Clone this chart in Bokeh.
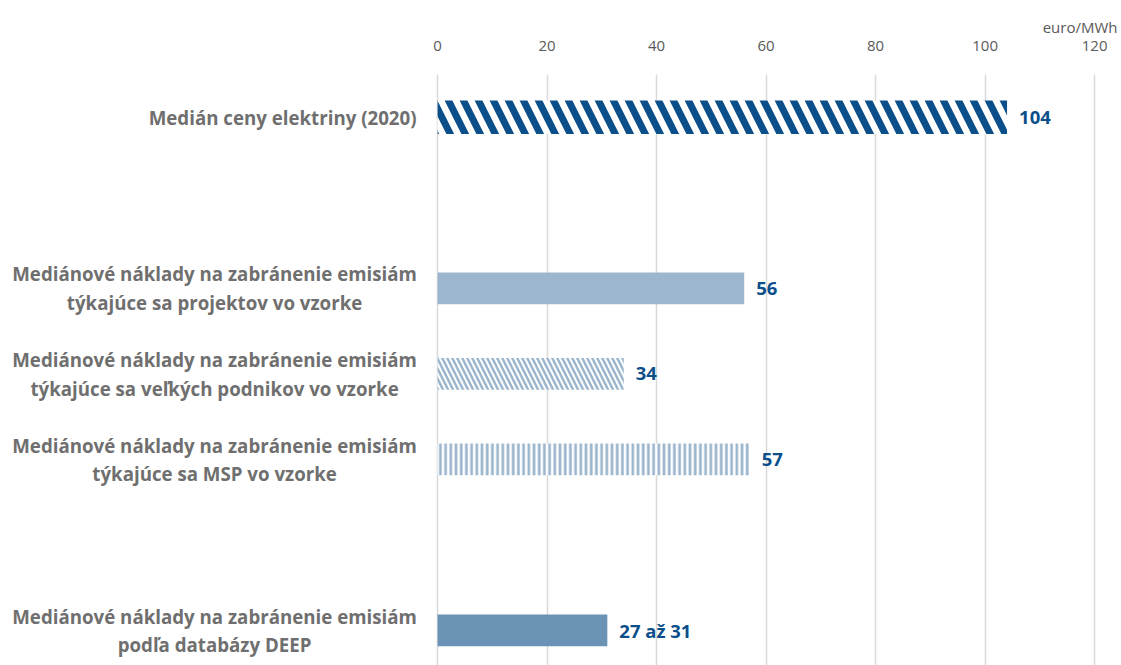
from bokeh.plotting import figure
from bokeh.models import Range1d, FixedTicker, ColumnDataSource
from bokeh.embed import file_html
from bokeh.resources import INLINE
from bokeh.core.properties import value

# Categories (top to bottom), their row positions and values in euro/MWh
categories = [
    "Medián ceny elektriny (2020)",
    "Mediánové náklady na zabránenie emisiám\ntýkajúce sa projektov vo vzorke",
    "Mediánové náklady na zabránenie emisiám\ntýkajúce sa veľkých podnikov vo vzorke",
    "Mediánové náklady na zabránenie emisiám\ntýkajúce sa MSP vo vzorke",
    "Mediánové náklady na zabránenie emisiám\npodľa databázy DEEP",
]
rows = [0, 2, 3, 4, 6]
values = [104, 56, 34, 57, 31]
value_labels = ["104", "56", "34", "57", "27 až 31"]
x_ticks = [0, 20, 40, 60, 80, 100, 120]

DARK = "#0B4F8A"
LIGHT = "#9CB6CE"
MID = "#6B93B5"
GRAY = "#6F6F6F"
FONT = "Open Sans"

# The frame spans the full width; the negative part of the x range holds the category labels
p = figure(
    width=1121, height=665,
    x_range=Range1d(-79.82, 124.9), y_range=Range1d(6.41, -0.5),
    x_axis_location="above",
    min_border_left=0, min_border_right=0, min_border_top=74, min_border_bottom=0,
    output_backend="svg", toolbar_location=None,
    title="euro/MWh", title_location="above",
)
p.outline_line_color = None
p.background_fill_color = "white"
p.border_fill_color = "white"
p.yaxis.visible = False

p.title.align = "right"
p.title.text_font = FONT
p.title.text_font_style = "normal"
p.title.text_font_size = "15px"
p.title.text_color = "#595959"
p.title.offset = 4
p.title.standoff = 2

# Value axis on top
xa = p.xaxis[0]
xa.ticker = FixedTicker(ticks=x_ticks)
xa.axis_line_color = None
xa.major_tick_line_color = None
xa.minor_tick_line_color = None
xa.major_label_text_font = FONT
xa.major_label_text_font_size = "15px"
xa.major_label_text_color = "#595959"
xa.major_label_standoff = 18

p.xgrid.ticker = FixedTicker(ticks=x_ticks)
p.xgrid.grid_line_color = "#D9D9D9"
p.xgrid.grid_line_width = 1.5
p.ygrid.grid_line_color = None

bh = 0.37

# Median electricity price: dark diagonal stripes
p.hbar(y=[rows[0]], right=[values[0]], left=0, height=0.39,
       fill_color="white", line_color=None,
       hatch_pattern="left_diagonal_line", hatch_color=DARK,
       hatch_scale=30, hatch_weight=7)
# Projects in sample: solid light blue
p.hbar(y=[rows[1]], right=[values[1]], left=0, height=bh,
       fill_color=LIGHT, line_color=None)
# Large enterprises: fine light diagonal stripes
p.hbar(y=[rows[2]], right=[values[2]], left=0, height=bh,
       fill_color="white", line_color=None,
       hatch_pattern="left_diagonal_line", hatch_color=LIGHT,
       hatch_scale=10, hatch_weight=2.5)
# SMEs: vertical light stripes
p.hbar(y=[rows[3]], right=[values[3]], left=0, height=bh,
       fill_color="white", line_color=None,
       hatch_pattern="vertical_line", hatch_color=LIGHT,
       hatch_scale=5.2, hatch_weight=2.7)
# DEEP database: solid mid blue
p.hbar(y=[rows[4]], right=[values[4]], left=0, height=bh,
       fill_color=MID, line_color=None)

# Value labels at the bar ends
src = ColumnDataSource(dict(x=values, y=rows, t=value_labels))
p.text(x="x", y="y", text="t", source=src, x_offset=12,
       text_align="left", text_baseline="middle",
       text_font=value(FONT), text_font_style="bold",
       text_font_size="18.5px", text_color=DARK)

# Category labels: one-line label right-aligned, wrapped labels centred on their block
single = [c for c in categories if "\n" not in c]
single_rows = [r for r, c in zip(rows, categories) if "\n" not in c]
multi = [c for c in categories if "\n" in c]
multi_rows = [r for r, c in zip(rows, categories) if "\n" in c]

p.text(x=[0] * len(single), y=single_rows, text=single, x_offset=-21,
       text_align="right", text_baseline="middle",
       text_font=value(FONT), text_font_style="bold",
       text_font_size="18.7px", text_color=GRAY)
p.text(x=[0] * len(multi), y=multi_rows, text=multi, x_offset=-223,
       text_align="center", text_baseline="middle", text_line_height=1.15,
       text_font=value(FONT), text_font_style="bold",
       text_font_size="18.7px", text_color=GRAY)

open("out.html", "w").write(file_html(p, INLINE))
